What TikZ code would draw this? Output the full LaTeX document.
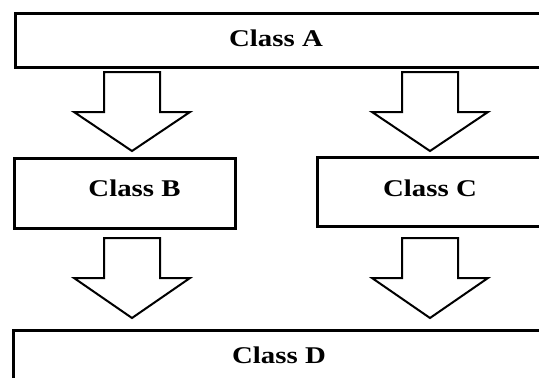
\documentclass[tikz,border=0pt]{standalone}
\usepackage{fontspec}
\setmainfont{Liberation Serif}
\begin{document}
\begin{tikzpicture}[x=1pt,y=-1pt,
  box/.style={draw=black,line width=3pt,fill=white,inner sep=0pt},
  lbl/.style={font=\fontsize{24}{26}\selectfont\bfseries,xscale=1.2,inner sep=0pt},
  blockarrow/.style={draw=black,line width=2pt,line join=miter,fill=white}]
\useasboundingbox (0,0) rectangle (539,378);
\clip (0,0) rectangle (539,378);
% boxes
\node[box,minimum width=560pt,minimum height=54pt] (A) at (295,40) {};
\node[box,minimum width=221pt,minimum height=70pt] (B) at (124.5,193) {};
\node[box,minimum width=260pt,minimum height=69pt] (C) at (447,191.5) {};
\node[box,minimum width=560pt,minimum height=80pt] (D) at (293,370) {};
% labels
\node[lbl] (tA) at (276,38) {Class A};
\node[lbl] (tB) at (134.5,188) {Class B};
\node[lbl] (tC) at (430,188) {Class C};
\node[lbl] (tD) at (279,355) {Class D};
% block arrows
\newcommand{\blockarr}[3]{%
  \draw[blockarrow] (#1-28,#2) -- (#1+28,#2) -- (#1+28,#2+40) -- (#1+58,#2+40)
    -- (#1,#3) -- (#1-58,#2+40) -- (#1-28,#2+40) -- cycle;}
\coordinate (a1) at (132,72);
\blockarr{132}{72}{151}
\blockarr{430}{72}{151}
\blockarr{132}{238}{318}
\blockarr{430}{238}{318}
\end{tikzpicture}
\end{document}
